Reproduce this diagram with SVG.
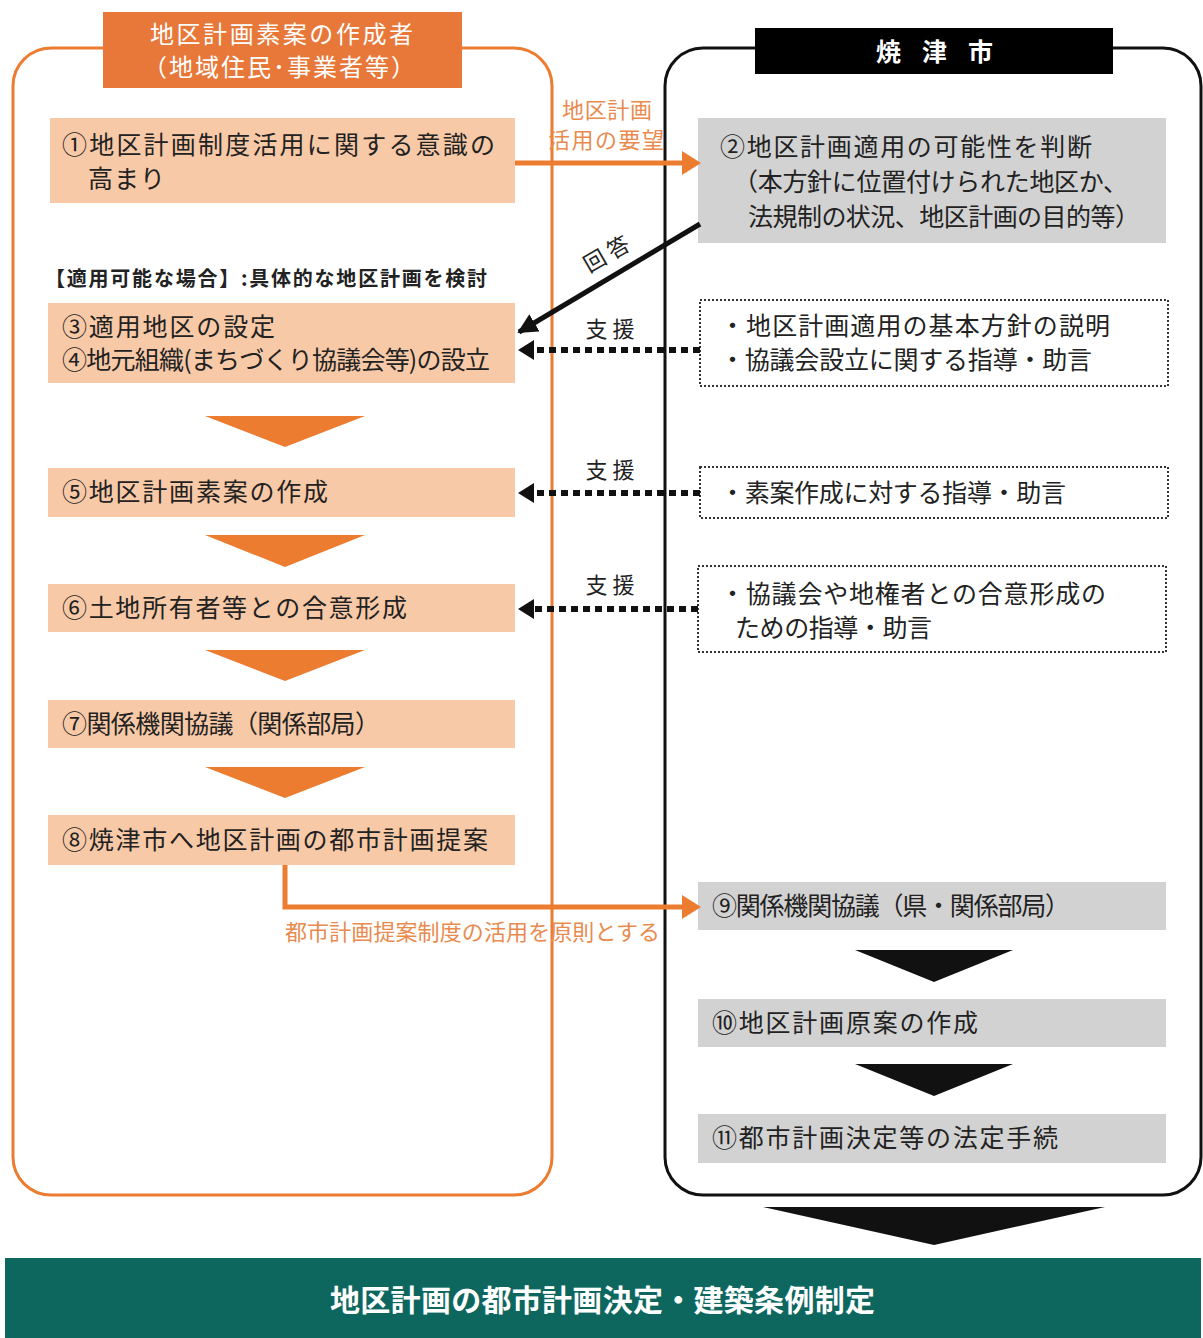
<svg xmlns="http://www.w3.org/2000/svg" width="1203" height="1338" viewBox="0 0 1203 1338">
<style>
text{font-family:"Noto Sans CJK JP","Noto Sans",sans-serif;}
.t{font-size:25px;fill:#222;}
.ol{fill:none;stroke:#ec7c30;stroke-width:3;}
.bl{fill:none;stroke:#111;stroke-width:3;}
.peach{fill:#f8c9a7;}
.gray{fill:#d2d2d2;}
.dbox{fill:#fff;stroke:#333;stroke-width:2;stroke-dasharray:2 2;}
.dot{stroke:#111;stroke-width:6;stroke-dasharray:7 5;fill:none;}
.lab{font-size:22px;fill:#e98a4e;}
.sien{font-size:22px;fill:#222;}
.otri{fill:#ec7c30;}
.btri{fill:#111;}
</style>
<defs>
<marker id="ah" viewBox="0 0 10 10" refX="9" refY="5" markerWidth="4" markerHeight="4" orient="auto" markerUnits="strokeWidth">
<path d="M0,0 L10,5 L0,10 z" fill="#111"/>
</marker>
</defs>
<rect width="1203" height="1338" fill="#fff"/>

<g id="left-lane">
<rect class="ol" x="13" y="48" width="539" height="1147" rx="38"/>
<rect x="103" y="12" width="359" height="76" fill="#e8783a"/>
<text x="150" y="43" font-size="24" fill="#fff" textLength="263" lengthAdjust="spacing">地区計画素案の作成者</text>
<text x="143" y="76" font-size="24" fill="#fff" textLength="272" lengthAdjust="spacing">（地域住民･事業者等）</text>
</g>

<g id="right-lane">
<rect class="bl" x="665" y="48" width="536" height="1147" rx="38"/>
<rect x="755" y="28" width="358" height="46" fill="#000"/>
<text x="876" y="61" font-size="25" font-weight="bold" fill="#fff" textLength="117" lengthAdjust="spacing">焼津市</text>
</g>

<g id="n1">
<rect class="peach" x="50" y="118" width="465" height="85"/>
<text class="t" x="62" y="154" textLength="433" lengthAdjust="spacing">①地区計画制度活用に関する意識の</text>
<text class="t" x="88" y="188" textLength="77" lengthAdjust="spacing">高まり</text>
</g>

<g id="n2">
<rect class="gray" x="698" y="118" width="468" height="125"/>
<text class="t" x="720" y="156" textLength="372" lengthAdjust="spacing">②地区計画適用の可能性を判断</text>
<text class="t" x="733" y="191" textLength="395" lengthAdjust="spacing">（本方針に位置付けられた地区か、</text>
<text class="t" x="748" y="226" textLength="392" lengthAdjust="spacing">法規制の状況、地区計画の目的等）</text>
</g>

<g id="cond">
<text x="45" y="286" font-size="20" font-weight="bold" fill="#222" textLength="442" lengthAdjust="spacing">【適用可能な場合】:具体的な地区計画を検討</text>
</g>

<g id="n3">
<rect class="peach" x="48" y="303" width="467" height="80"/>
<text class="t" x="62" y="336" textLength="213" lengthAdjust="spacing">③適用地区の設定</text>
<text class="t" x="62" y="369" textLength="428" lengthAdjust="spacing">④地元組織(まちづくり協議会等)の設立</text>
</g>

<g id="s1">
<rect class="dbox" x="700" y="300" width="468" height="86"/>
<text class="t" x="720" y="335" textLength="390" lengthAdjust="spacing">・地区計画適用の基本方針の説明</text>
<text class="t" x="720" y="369" textLength="372" lengthAdjust="spacing">・協議会設立に関する指導・助言</text>
</g>

<g id="n5">
<rect class="peach" x="48" y="468" width="467" height="49"/>
<text class="t" x="62" y="501" textLength="266" lengthAdjust="spacing">⑤地区計画素案の作成</text>
</g>

<g id="s2">
<rect class="dbox" x="700" y="467" width="468" height="51"/>
<text class="t" x="720" y="502" textLength="346" lengthAdjust="spacing">・素案作成に対する指導・助言</text>
</g>

<g id="n6">
<rect class="peach" x="48" y="584" width="467" height="48"/>
<text class="t" x="62" y="617" textLength="345" lengthAdjust="spacing">⑥土地所有者等との合意形成</text>
</g>

<g id="s3">
<rect class="dbox" x="698" y="566" width="468" height="86"/>
<text class="t" x="720" y="603" textLength="386" lengthAdjust="spacing">・協議会や地権者との合意形成の</text>
<text class="t" x="735" y="637" textLength="197" lengthAdjust="spacing">ための指導・助言</text>
</g>

<g id="n7">
<rect class="peach" x="48" y="700" width="467" height="48"/>
<text class="t" x="62" y="733" textLength="318" lengthAdjust="spacing">⑦関係機関協議（関係部局）</text>
</g>

<g id="n8">
<rect class="peach" x="48" y="815" width="467" height="50"/>
<text class="t" x="62" y="849" textLength="426" lengthAdjust="spacing">⑧焼津市へ地区計画の都市計画提案</text>
</g>

<g id="n9">
<rect class="gray" x="698" y="882" width="468" height="48"/>
<text class="t" x="712" y="915" textLength="358" lengthAdjust="spacing">⑨関係機関協議（県・関係部局）</text>
</g>

<g id="n10">
<rect class="gray" x="698" y="999" width="468" height="48"/>
<text class="t" x="712" y="1032" textLength="266" lengthAdjust="spacing">⑩地区計画原案の作成</text>
</g>

<g id="n11">
<rect class="gray" x="698" y="1114" width="468" height="49"/>
<text class="t" x="712" y="1147" textLength="346" lengthAdjust="spacing">⑪都市計画決定等の法定手続</text>
</g>

<g id="result">
<rect x="5" y="1258" width="1196" height="80" fill="#0e675f"/>
<text x="330" y="1311" font-size="30" font-weight="bold" fill="#fff" textLength="545" lengthAdjust="spacing">地区計画の都市計画決定・建築条例制定</text>
</g>

<g id="connectors">
<!-- 1 -> 2 -->
<line x1="515" y1="163" x2="684" y2="163" stroke="#ec7c30" stroke-width="5"/>
<polygon points="682,151 701,163 682,175" fill="#ec7c30"/>
<text class="lab" x="562" y="118" textLength="90" lengthAdjust="spacing">地区計画</text>
<text class="lab" x="548" y="148" textLength="116" lengthAdjust="spacing">活用の要望</text>
<!-- answer -->
<line x1="700" y1="224" x2="519" y2="332" stroke="#111" stroke-width="5" marker-end="url(#ah)"/>
<text x="607" y="262" text-anchor="middle" font-size="22" fill="#222" transform="rotate(-30 607 255)">回 答</text>
<!-- support arrows -->
<line class="dot" x1="700" y1="350" x2="534" y2="350"/>
<polygon points="534,340 518,350 534,360" fill="#111"/>
<text class="sien" x="610" y="337" text-anchor="middle">支 援</text>
<line class="dot" x1="700" y1="493" x2="534" y2="493"/>
<polygon points="534,483 518,493 534,503" fill="#111"/>
<text class="sien" x="610" y="478" text-anchor="middle">支 援</text>
<line class="dot" x1="698" y1="609" x2="534" y2="609"/>
<polygon points="534,599 518,609 534,619" fill="#111"/>
<text class="sien" x="610" y="593" text-anchor="middle">支 援</text>
<!-- orange flow triangles -->
<polygon class="otri" points="205,416 365,416 285,447"/>
<polygon class="otri" points="205,535 365,535 285,567"/>
<polygon class="otri" points="205,650 365,650 285,681"/>
<polygon class="otri" points="205,767 365,767 285,798"/>
<!-- 8 -> 9 -->
<polyline points="285,865 285,907 684,907" fill="none" stroke="#ec7c30" stroke-width="5"/>
<polygon points="682,895 701,907 682,919" fill="#ec7c30"/>
<text class="lab" x="285" y="940" textLength="375" lengthAdjust="spacing">都市計画提案制度の活用を原則とする</text>
<!-- black flow triangles -->
<polygon class="btri" points="855,950 1013,950 934,982"/>
<polygon class="btri" points="855,1064 1013,1064 934,1096"/>
<polygon class="btri" points="763,1207 1105,1207 934,1245"/>
</g>
</svg>
